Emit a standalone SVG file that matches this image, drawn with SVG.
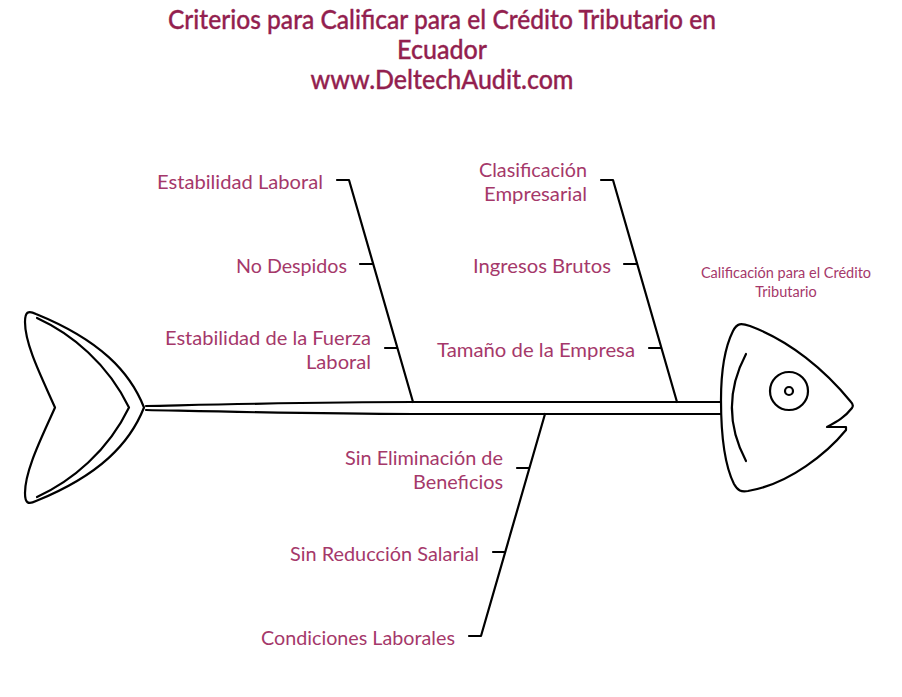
<svg xmlns="http://www.w3.org/2000/svg" width="902" height="697" viewBox="0 0 902 697">
<style>
.ln{fill:none;stroke:#000;stroke-width:2.2;stroke-linecap:round;stroke-linejoin:round}
text{font-family:"Lato","Noto Sans",sans-serif;fill:#a5386a}
.t{font-size:27px;font-weight:500;text-anchor:middle;fill:#931f4f;stroke:#931f4f;stroke-width:.35}
.l{font-size:20px;text-anchor:end}
.h{font-size:14.5px;text-anchor:middle}
</style>
<rect width="902" height="697" fill="#fff"/>
<g id="title">
<text class="t" x="442" y="29" textLength="548" lengthAdjust="spacingAndGlyphs">Criterios para Calificar para el Crédito Tributario en</text>
<text class="t" x="442" y="59" textLength="90" lengthAdjust="spacingAndGlyphs">Ecuador</text>
<text class="t" x="442" y="89" textLength="263" lengthAdjust="spacingAndGlyphs">www.DeltechAudit.com</text>
</g>
<g id="connectors">
<path class="ln" d="M146 406C240 404 320 402 413 402H721M146 410C240 412 320 414 413 414H721"/>
<path class="ln" d="M337 180H349L413 402M360 264H373M385 348H397"/>
<path class="ln" d="M601 180H613L677 402M624 264H637M649 348H661"/>
<path class="ln" d="M545 414L481 636H469M517 468H529M493 552H505"/>
</g>
<g id="tail">
<path class="ln" d="M144 407.5C130 372 100 340 36 314C28 310 25 312 25 322C25 345 42 378 55 407.5C42 437 25 470 25 493C25 503 28 505 36 501C100 475 130 443 144 407.5Z"/>
<path class="ln" d="M37 318C72 334 108 364 129 407.5C108 451 72 481 37 497"/>
</g>
<g id="head">
<path class="ln" d="M721 400C721 370 726 345 733 331C737 323 741 323 750 326C790 341 825 370 851 402Q854 405 852 408C845 417 838 421 827 427H846V430C828 452 790 484 748 491C741 492 738 491 734 484C726 468 721 440 721 400Z"/>
<path class="ln" d="M746 354C727 390 727 425 746 461"/>
<circle class="ln" cx="789" cy="391" r="19"/>
<circle class="ln" cx="789" cy="391" r="4"/>
<text class="h" x="786" y="278">Calificación para el Crédito</text>
<text class="h" x="786" y="297">Tributario</text>
</g>
<g id="estabilidad-laboral"><text class="l" x="323" y="188.500" textLength="166" lengthAdjust="spacingAndGlyphs">Estabilidad Laboral</text></g>
<g id="no-despidos"><text class="l" x="347" y="272.500" textLength="111" lengthAdjust="spacingAndGlyphs">No Despidos</text></g>
<g id="estabilidad-fuerza">
<text class="l" x="371" y="344.500" textLength="206" lengthAdjust="spacingAndGlyphs">Estabilidad de la Fuerza</text>
<text class="l" x="371" y="368.500" textLength="65" lengthAdjust="spacingAndGlyphs">Laboral</text>
</g>
<g id="clasificacion">
<text class="l" x="587" y="176.500" textLength="108" lengthAdjust="spacingAndGlyphs">Clasificación</text>
<text class="l" x="587" y="200.500" textLength="103" lengthAdjust="spacingAndGlyphs">Empresarial</text>
</g>
<g id="ingresos"><text class="l" x="611" y="272.500" textLength="138" lengthAdjust="spacingAndGlyphs">Ingresos Brutos</text></g>
<g id="tamano"><text class="l" x="635" y="356.500" textLength="198" lengthAdjust="spacingAndGlyphs">Tamaño de la Empresa</text></g>
<g id="sin-eliminacion">
<text class="l" x="503" y="464.500" textLength="158" lengthAdjust="spacingAndGlyphs">Sin Eliminación de</text>
<text class="l" x="503" y="488.500" textLength="90" lengthAdjust="spacingAndGlyphs">Beneficios</text>
</g>
<g id="sin-reduccion"><text class="l" x="479" y="560.500" textLength="189" lengthAdjust="spacingAndGlyphs">Sin Reducción Salarial</text></g>
<g id="condiciones"><text class="l" x="455" y="644.500" textLength="194" lengthAdjust="spacingAndGlyphs">Condiciones Laborales</text></g>
</svg>
